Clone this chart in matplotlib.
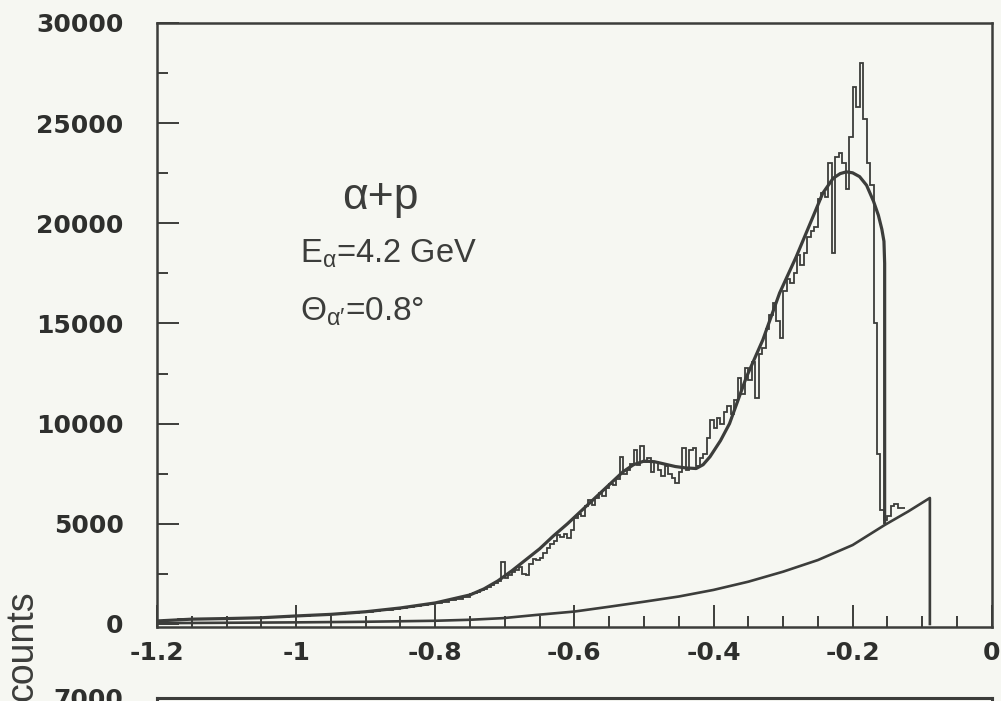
import numpy as np
import matplotlib
matplotlib.use('Agg')
import matplotlib.pyplot as plt

plt.rcParams['font.family'] = ['Liberation Sans', 'DejaVu Sans']
plt.rcParams['mathtext.fontset'] = 'custom'
plt.rcParams['mathtext.rm'] = 'Liberation Sans'
plt.rcParams['mathtext.it'] = 'Liberation Sans'

ink = '#3c3d3b'
paper = '#f6f7f2'

# histogram, 0.01 bins from -1.2 to -0.75
hist_left = [120, 180, 220, 230, 250, 240, 260, 250, 270, 260,
             280, 290, 280, 300, 310, 320, 330, 350, 360, 380,
             400, 410, 430, 440, 460, 480, 500, 530, 550, 580,
             610, 640, 680, 720, 760, 800, 840, 880, 940, 990,
             1050, 1110, 1180, 1270, 1360]
# histogram, 0.005 bins from -0.75 on
hist_right = [1480, 1540, 1600, 1680, 1760, 1850, 1950, 2050, 2150, 3100,
              2300, 2450, 2600, 2700, 2850, 2500, 2450, 3000, 3250, 3200,
              3300, 3550, 3800, 4000, 4150, 4450, 4350, 4500, 4300, 4700,
              5300, 5500, 5400, 5900, 6200, 5950, 6300, 6550, 6400, 6800,
              7000, 6950, 7250, 8350, 7500, 7700, 8000, 8700, 7950, 8900,
              8100, 8300, 7600, 8100, 7700, 7400, 7900, 7500, 7300, 7050,
              7600, 8800, 7700, 8700, 8800, 7900, 8300, 8500, 9300, 10200,
              9800, 10300, 10000, 10600, 10900, 10500, 11200, 12300, 11500, 12800,
              12200, 13100, 11300, 13500, 13800, 14700, 15400, 16000, 15100, 14300,
              16600, 17200, 17000, 17500, 18400, 17900, 18500, 19300, 19600, 19800,
              21200, 21500, 21300, 23000, 18500, 23300, 23500, 23000, 21700, 24300,
              26800, 25800, 28000, 25200, 23000, 21900, 15000, 8500, 5700, 5200,
              5400, 5900, 6000, 5800, 5800]

# fitted curve
fit_x = [-1.2, -1.15, -1.1, -1.05, -1.0, -0.95, -0.9, -0.85, -0.8, -0.75,
         -0.73, -0.71, -0.69, -0.67, -0.65, -0.63, -0.61, -0.59, -0.57, -0.55,
         -0.53, -0.515, -0.5, -0.485, -0.47, -0.455, -0.44, -0.425, -0.415, -0.405,
         -0.39, -0.377, -0.353, -0.329, -0.305, -0.281, -0.257, -0.243, -0.228, -0.218,
         -0.209, -0.2, -0.19, -0.18, -0.17, -0.163, -0.158, -0.155, -0.154, -0.154]
fit_y = [150, 240, 270, 310, 400, 480, 610, 800, 1050, 1450,
         1750, 2150, 2650, 3200, 3750, 4400, 5000, 5650, 6300, 6950,
         7600, 7950, 8130, 8100, 7980, 7860, 7790, 7760, 7950, 8350,
         9150, 10000, 12300, 14190, 16520, 18340, 20330, 21500, 22250, 22480,
         22570, 22520, 22330, 21900, 21100, 20400, 19700, 19100, 18000, 5070]

# background curve
bg_x = [-1.2, -1.1, -1.0, -0.9, -0.8, -0.75, -0.703, -0.655, -0.6, -0.55,
        -0.5, -0.45, -0.4, -0.35, -0.3, -0.25, -0.2, -0.154, -0.12, -0.089, -0.089]
bg_y = [40, 60, 80, 110, 160, 210, 290, 450, 620, 860,
        1110, 1370, 1700, 2110, 2610, 3190, 3940, 4940, 5620, 6290, 0]

edges_left = -1.2 + 0.01 * np.arange(len(hist_left) + 1)
edges_right = -0.75 + 0.005 * np.arange(len(hist_right) + 1)
edges = np.concatenate([edges_left, edges_right[1:]])
counts = np.array(hist_left + hist_right)

fig = plt.figure(figsize=(10.01, 7.01), dpi=100, facecolor=paper)
ax = fig.add_axes([0.1568, 0.1056, 0.834, 0.8616], facecolor=paper)

ax.stairs(counts, edges, baseline=None, color=ink, lw=1.3)
ax.plot(fit_x, fit_y, color=ink, lw=2.3)
ax.plot(bg_x, bg_y, color=ink, lw=1.9)

ax.set_xlim(-1.2, 0)
ax.set_ylim(-150, 30000)
ax.set_xticks([-1.2, -1.0, -0.8, -0.6, -0.4, -0.2, 0])
ax.set_xticklabels(['-1.2', '-1', '-0.8', '-0.6', '-0.4', '-0.2', '0'])
ax.set_xticks(np.arange(-1.2, 0.001, 0.05), minor=True)
ax.set_yticks([0, 5000, 10000, 15000, 20000, 25000, 30000])
ax.set_yticks(np.arange(0, 30001, 2500), minor=True)
ax.tick_params(which='both', direction='in', colors=ink, width=1.4, top=False, right=False)
ax.tick_params(which='major', length=16)
ax.tick_params(which='minor', length=8)
ax.tick_params(axis='y', which='major', pad=24)
ax.tick_params(axis='x', which='major', pad=10)
for lab in ax.get_xticklabels() + ax.get_yticklabels():
    lab.set_family('DejaVu Sans')
    lab.set_fontweight('bold')
    lab.set_fontsize(18)
    lab.set_color('#2e2f2d')
for s in ax.spines.values():
    s.set_color(ink)
    s.set_linewidth(1.8)

fig.text(380 / 1001, 1 - 198 / 701, 'α+p', fontsize=32, color=ink, ha='center', va='center')
fig.text(300 / 1001, 1 - 254 / 701, r'E$_\alpha$=4.2 GeV', fontsize=23.5, color=ink, ha='left', va='center')
fig.text(300 / 1001, 1 - 312 / 701, r'Θ$_{\alpha\prime}$=0.8°', fontsize=24, color=ink, ha='left', va='center')
fig.text(22 / 1001, 1 - 646 / 701, 'counts', fontsize=27, color=ink, rotation=90, ha='center', va='center')

# top of the next panel, cut off by the page
ax2 = fig.add_axes([0.1568, -0.3, 0.834, 0.3043], facecolor=paper)
ax2.set_ylim(0, 7000)
ax2.set_yticks([7000])
ax2.set_xticks([])
ax2.tick_params(axis='y', direction='in', length=16, pad=24, colors=ink)
for lab in ax2.get_yticklabels():
    lab.set_family('DejaVu Sans')
    lab.set_fontweight('bold')
    lab.set_fontsize(18)
    lab.set_color('#2e2f2d')
for s in ax2.spines.values():
    s.set_color(ink)
    s.set_linewidth(2.2)

fig.savefig('out.png', dpi=100, facecolor=paper)
